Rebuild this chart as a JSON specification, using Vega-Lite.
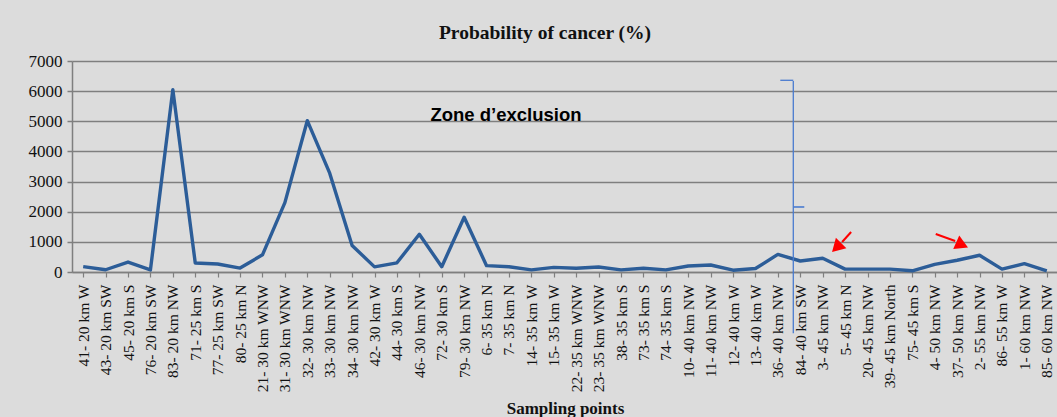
{
  "$schema": "https://vega.github.io/schema/vega-lite/v6.json",
  "width": 986,
  "height": 211,
  "autosize": "none",
  "padding": {"left": 72, "top": 61, "right": 0, "bottom": 145},
  "background": "#dcdcdc",
  "config": {"view": {"stroke": null}, "font": "Liberation Serif"},
  "title": {"text": "Probability of cancer (%)", "font": "Liberation Serif", "fontSize": 19.5, "fontWeight": "bold", "color": "#111111", "anchor": "middle", "dx": -20, "offset": 9},
  "datasets": {
    "cancer": [
      {"point": "41- 20 km W", "prob": 180},
      {"point": "43- 20 km SW", "prob": 75},
      {"point": "45- 20 km S", "prob": 330},
      {"point": "76- 20 km SW", "prob": 70},
      {"point": "83- 20 km NW", "prob": 6050},
      {"point": "71- 25 km S", "prob": 300},
      {"point": "77- 25 km SW", "prob": 265},
      {"point": "80- 25 km N", "prob": 130},
      {"point": "21- 30 km WNW", "prob": 570},
      {"point": "31- 30 km WNW", "prob": 2300},
      {"point": "32- 30 km NW", "prob": 5020},
      {"point": "33- 30 km NW", "prob": 3280},
      {"point": "34- 30 km NW", "prob": 880},
      {"point": "42- 30 km W", "prob": 170},
      {"point": "44- 30 km S", "prob": 305},
      {"point": "46- 30 km NW", "prob": 1250},
      {"point": "72- 30 km S", "prob": 175},
      {"point": "79- 30 km NW", "prob": 1815},
      {"point": "6- 35 km N", "prob": 210},
      {"point": "7- 35 km N", "prob": 175},
      {"point": "14- 35 km W", "prob": 70},
      {"point": "15- 35 km W", "prob": 155},
      {"point": "22- 35 km WNW", "prob": 125},
      {"point": "23- 35 km WNW", "prob": 165},
      {"point": "38- 35 km S", "prob": 70},
      {"point": "73- 35 km S", "prob": 125},
      {"point": "74- 35 km S", "prob": 70},
      {"point": "10- 40 km NW", "prob": 200},
      {"point": "11- 40 km NW", "prob": 232},
      {"point": "12- 40 km W", "prob": 60},
      {"point": "13- 40 km W", "prob": 115},
      {"point": "36- 40 km NW", "prob": 585},
      {"point": "84- 40 km SW", "prob": 365},
      {"point": "3- 45 km NW", "prob": 455},
      {"point": "5- 45 km N", "prob": 95},
      {"point": "20- 45 km NW", "prob": 95},
      {"point": "39- 45 km North", "prob": 95},
      {"point": "75- 45 km S", "prob": 40},
      {"point": "4- 50 km NW", "prob": 255},
      {"point": "37- 50 km NW", "prob": 390},
      {"point": "2- 55 km NW", "prob": 555},
      {"point": "86- 55 km W", "prob": 95},
      {"point": "1- 60 km NW", "prob": 275},
      {"point": "85- 60 km NW", "prob": 40}
    ]
  },
  "encoding": {
    "x": {
      "field": "point", "type": "nominal", "sort": null,
      "scale": {"type": "point", "padding": 0.5},
      "axis": {
        "title": "Sampling points", "titleFont": "Liberation Serif", "titleFontSize": 17, "titleFontWeight": "bold", "titleColor": "#111111", "titleY": 141, "titleBaseline": "alphabetic",
        "labelAngle": -90, "labelFont": "Liberation Serif", "labelFontSize": 15.5, "labelColor": "#111111", "labelPadding": 7, "labelLimit": 200,
        "domainColor": "#7f7f7f", "domainWidth": 1.5, "tickColor": "#7f7f7f", "tickSize": 5, "tickWidth": 1.2, "grid": false
      }
    },
    "y": {
      "field": "prob", "type": "quantitative",
      "scale": {"domain": [0, 7000], "nice": false, "zero": true},
      "axis": {
        "title": null, "values": [0, 1000, 2000, 3000, 4000, 5000, 6000, 7000], "format": "d",
        "labelFont": "Liberation Serif", "labelFontSize": 17, "labelColor": "#111111", "labelPadding": 5,
        "grid": true, "gridColor": "#7f7f7f", "gridWidth": 1.5,
        "domainColor": "#7f7f7f", "domainWidth": 1.5, "tickColor": "#7f7f7f", "tickSize": 5, "tickWidth": 1.5
      }
    }
  },
  "layer": [
    {
      "data": {"name": "cancer"},
      "mark": {"type": "line", "color": "#2c5d98", "strokeWidth": 3.4, "strokeJoin": "round"}
    },
    {
      "data": {"values": [{"point": "7- 35 km N", "prob": 5200, "label": "Zone d’exclusion"}]},
      "mark": {"type": "text", "font": "Liberation Sans", "fontSize": 18.5, "fontWeight": "bold", "color": "#000000", "align": "center", "baseline": "middle", "dx": -3},
      "encoding": {"text": {"field": "label"}}
    },
    {
      "data": {"values": [{"point": "84- 40 km SW", "prob": 6340, "prob2": -2030}]},
      "mark": {"type": "rule", "color": "#4a7bd0", "strokeWidth": 1.3, "xOffset": -7, "x2Offset": -7},
      "encoding": {"y2": {"field": "prob2"}}
    },
    {
      "data": {"values": [{"point": "84- 40 km SW", "prob": 6360}]},
      "mark": {"type": "rule", "color": "#4a7bd0", "strokeWidth": 1.3, "xOffset": -20, "x2Offset": -7},
      "encoding": {"x2": {"field": "point"}}
    },
    {
      "data": {"values": [{"point": "84- 40 km SW", "prob": 2157}]},
      "mark": {"type": "rule", "color": "#4a7bd0", "strokeWidth": 1.6, "xOffset": -7, "x2Offset": 4},
      "encoding": {"x2": {"field": "point"}}
    },
    {
      "data": {"values": [{"point": "5- 45 km N", "prob": 1327, "prob2": 995}]},
      "mark": {"type": "rule", "color": "#ff0000", "strokeWidth": 2, "xOffset": 6, "x2Offset": -3},
      "encoding": {"x2": {"field": "point"}, "y2": {"field": "prob2"}}
    },
    {
      "data": {"values": [{"point": "5- 45 km N", "prob": 863}]},
      "mark": {"type": "point", "shape": "triangle", "filled": true, "color": "#ff0000", "opacity": 1, "size": 220, "angle": 225, "xOffset": -7}
    },
    {
      "data": {"values": [{"point": "4- 50 km NW", "point2": "37- 50 km NW", "prob": 1261, "prob2": 1029}]},
      "mark": {"type": "rule", "color": "#ff0000", "strokeWidth": 2, "xOffset": 1, "x2Offset": -2},
      "encoding": {"x2": {"field": "point2"}, "y2": {"field": "prob2"}}
    },
    {
      "data": {"values": [{"point": "37- 50 km NW", "prob": 929}]},
      "mark": {"type": "point", "shape": "triangle", "filled": true, "color": "#ff0000", "opacity": 1, "size": 220, "angle": 114, "xOffset": 3}
    }
  ]
}
